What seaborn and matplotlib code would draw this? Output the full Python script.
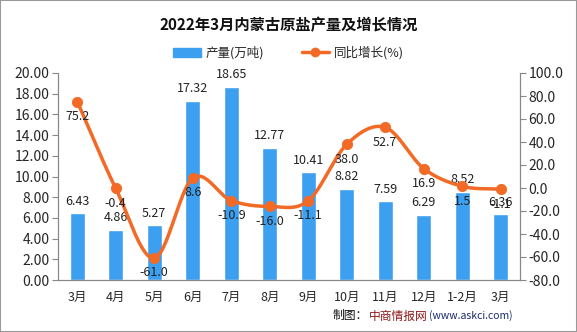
import numpy as np
import pandas as pd
import matplotlib
matplotlib.use("Agg")
import matplotlib.pyplot as plt
import seaborn as sns
from matplotlib.patches import Rectangle
from matplotlib.lines import Line2D
from matplotlib.patches import Patch

months = ["3月", "4月", "5月", "6月", "7月", "8月", "9月", "10月", "11月", "12月", "1-2月", "3月"]
output = [6.43, 4.86, 5.27, 17.32, 18.65, 12.77, 10.41, 8.82, 7.59, 6.29, 8.52, 6.36]
growth = [75.2, -0.4, -61.0, 8.6, -10.9, -16.0, -11.1, 38.0, 52.7, 16.9, 1.5, -1.1]

sns.set_theme(style="white")
plt.rcParams['font.family'] = ['Noto Sans CJK SC', 'DejaVu Sans']
plt.rcParams['axes.unicode_minus'] = False

BAR = "#3d9ff0"
LINE = "#f26a25"
GRID = "#888888"

fig = plt.figure(figsize=(5.77, 3.32), dpi=100)
ax = fig.add_axes([58/577, 1-280/332, (520-58)/577, (280-73)/332])
ax2 = ax.twinx()

idx = np.arange(len(months))
df = pd.DataFrame({"idx": idx, "output": output, "growth": growth})

sns.barplot(data=df, x="idx", y="output", color=BAR, width=0.38, saturation=1, ax=ax)
ax.set_ylim(0, 20)
ax.set_xlim(-0.5, len(months)-0.5)
ax.set_yticks(np.arange(0, 20.01, 2))
ax.set_yticklabels([f"{v:.2f}" for v in np.arange(0, 20.01, 2)])
ax.set_xticks(idx)
ax.set_xticklabels(months)
ax.set_xticks(np.arange(-0.5, len(months)), minor=True)
ax.tick_params(axis='x', which='major', length=0, pad=8, labelsize=9)
ax.tick_params(axis='x', which='minor', length=4, color=GRID, width=0.8, direction='out')
ax.tick_params(axis='y', length=4, color=GRID, width=0.8, direction='out', labelsize=10, pad=2)
ax.set_xlabel("")
ax.set_ylabel("")

# smooth curve (Catmull-Rom) through the data points for rendering only
g = np.array(growth, dtype=float)
P = np.concatenate([[2*g[0]-g[1]], g, [2*g[-1]-g[-2]]])
xs, ys = [], []
for i in range(len(g)-1):
    p0, p1, p2, p3 = P[i], P[i+1], P[i+2], P[i+3]
    t = np.linspace(0, 1, 30)
    y = 0.5*((2*p1) + (-p0+p2)*t + (2*p0-5*p1+4*p2-p3)*t**2 + (-p0+3*p1-3*p2+p3)*t**3)
    xs.extend(i + t)
    ys.extend(y)
ax2.plot(xs, ys, color=LINE, lw=2.5, zorder=3)
sns.scatterplot(data=df, x="idx", y="growth", color=LINE, s=55, edgecolor=LINE, zorder=4, ax=ax2, legend=False)
ax2.set_ylim(-80, 100)
ax2.set_yticks(np.arange(-80, 100.1, 20))
ax2.set_yticklabels([f"{v:.1f}" for v in np.arange(-80, 100.1, 20)])
ax2.tick_params(axis='y', length=4, color=GRID, width=0.8, direction='out', labelsize=10, pad=2)
ax2.set_ylabel("")
ax2.set_xlabel("")

for a in (ax, ax2):
    a.spines["top"].set_visible(False)
    for s in ["left", "right", "bottom"]:
        a.spines[s].set_color(GRID)
        a.spines[s].set_linewidth(0.8)
ax.grid(False)
ax2.grid(False)

for i, v in enumerate(output):
    ax.annotate(f"{v:.2f}", (i, v), xytext=(0, 4), textcoords="offset points",
                ha="center", va="bottom", fontsize=9, color="#222222")
for i, v in enumerate(growth):
    ax2.annotate(f"{v:.1f}", (i, v), xytext=(0, -6), textcoords="offset points",
                 ha="center", va="top", fontsize=9, color="#222222")

fig.text(0.5, 1-25/332, "2022年3月内蒙古原盐产量及增长情况", ha="center", va="center",
         fontsize=11, fontweight="bold", color="#111111")

handles = [Patch(facecolor=BAR, edgecolor=BAR),
           Line2D([0], [0], color=LINE, lw=2.5, marker="o", markersize=6)]
fig.legend(handles, ["产量(万吨)", "同比增长(%)"], loc="center", bbox_to_anchor=(0.5, 1-53/332),
           ncol=2, frameon=False, fontsize=9, handlelength=2.2, columnspacing=3, handletextpad=0.4)

# footer, laid out piece by piece so that the parts do not overlap
renderer = fig.canvas.get_renderer()
xpix = 333
ypos = 1-316/332
for txt, col, fs in [("制图：", "#111111", 8.5), ("中商情报网", "#8b1a1a", 8.5), ("(www.askci.com)", "#1a2a6b", 7.5)]:
    t = fig.text(xpix/577, ypos, txt, ha="left", va="center", fontsize=fs, color=col)
    bb = t.get_window_extent(renderer=renderer)
    xpix += bb.width + 1

fig.patches.append(Rectangle((0, 0), 1, 1, transform=fig.transFigure, fill=False,
                             edgecolor="#999999", lw=1.5))

fig.savefig("out.png", dpi=100)
